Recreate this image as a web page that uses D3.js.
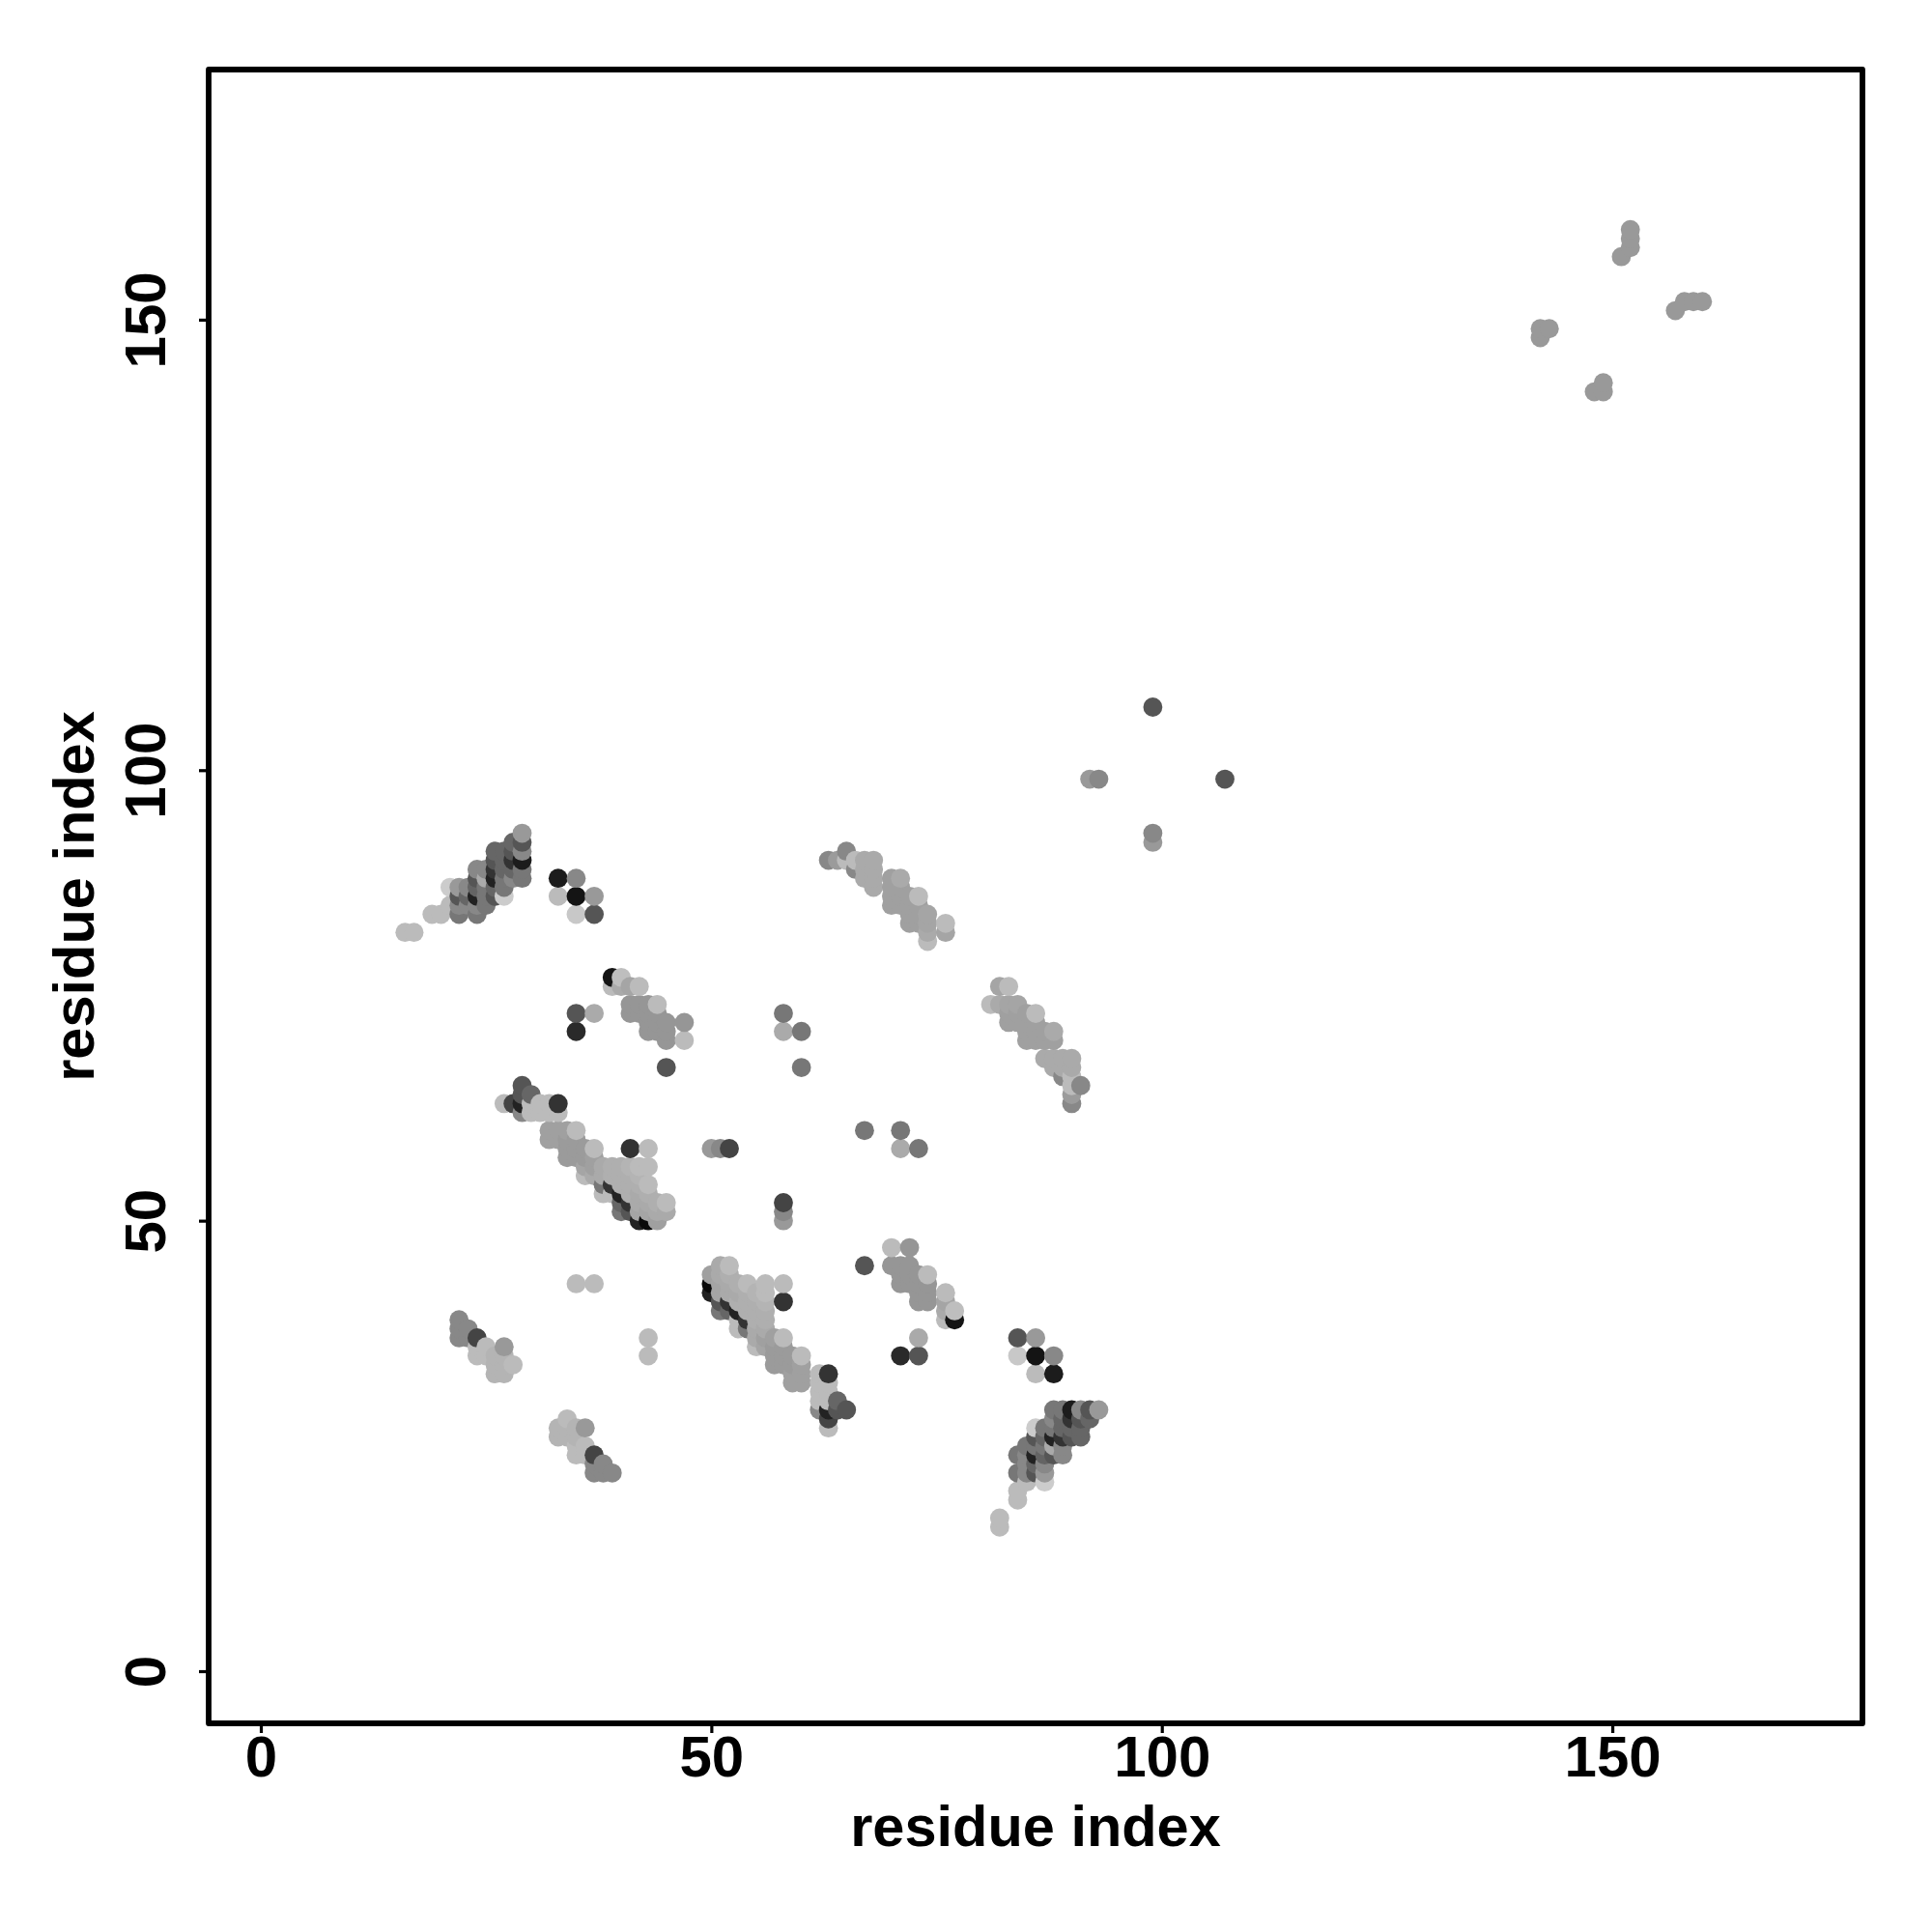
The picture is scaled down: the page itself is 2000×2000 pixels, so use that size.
<!DOCTYPE html>
<html><head><meta charset="utf-8">
<script src="https://cdnjs.cloudflare.com/ajax/libs/d3/7.8.5/d3.min.js"></script>
<style>html,body{margin:0;background:#fff}svg{display:block}text{font-family:"Liberation Sans",Arial,sans-serif;font-weight:bold;fill:#000}</style>
</head><body><svg id="c" width="2000" height="2000"></svg>
<script>
// contacts: [residue i, residue j, grey level]; the map is symmetric, the mirror is added in code
const strandPairA = [[16,82,187],[17,82,187],[19,84,187],[20,84,187],[21,85,187],[21,87,204],
 [22,84,119],[22,85,136],[22,86,85],[22,87,153],[23,85,136],[23,86,102],[23,87,136],
 [24,84,119],[24,85,136],[24,86,34],[24,87,100],[24,88,85],[24,89,136],
 [25,85,119],[25,86,119],[25,87,119],[25,88,170],[25,89,136],
 [26,86,85],[26,87,102],[26,88,34],[26,89,51],[26,90,85],[26,91,102],
 [27,86,204],[27,87,119],[27,88,119],[27,89,102],[27,90,102],[27,91,102],
 [28,88,136],[28,89,102],[28,90,51],[28,91,85],[28,92,102],
 [29,88,119],[29,89,119],[29,90,28],[29,91,136],[29,92,85],[29,93,153]];
const isolatedA = [[33,86,187],[33,88,28],[35,84,200],[35,86,20],[35,88,136],[37,84,85],[37,86,153]];
const strandPairB = [[39,76,187],[39,77,20],[40,76,170],[40,77,190],[41,73,150],[41,74,150],[41,76,165],
 [42,73,150],[42,74,150],[42,76,187],[43,71,150],[43,72,150],[43,73,150],[43,74,150],
 [44,71,150],[44,72,150],[44,73,150],[44,74,187],[45,70,150],[45,71,150],[45,72,150]];
const isolatedB = [[35,71,42],[35,73,85],[37,73,170],[45,67,85],[47,70,187],[47,72,150],
 [58,71,170],[58,73,119],[60,67,119],[60,71,119],[41,58,51],[43,58,187],[50,58,153],[51,58,136],[52,58,68],
 [35,43,187],[37,43,187],[92,99,153],[93,99,136],[99,107,85]];
const strandPairC = [[63,90,136],[64,90,155],[65,90,187],[65,91,136],[66,89,136],[66,90,187],
 [67,88,170],[67,89,170],[67,90,170],[68,87,170],[68,88,170],[68,89,170],[68,90,170],
 [70,85,160],[70,86,160],[70,87,160],[70,88,160],[71,85,160],[71,86,160],[71,87,160],[71,88,170],
 [72,83,160],[72,84,160],[72,85,160],[72,86,160],[73,83,160],[73,84,160],[73,85,160],[73,86,187],
 [74,81,187],[74,82,170],[74,83,165],[74,84,165],[76,82,165],[76,83,187]];
const strandPairD = [[27,63,187],[28,63,68],[29,62,136],[29,63,34],[29,64,85],[29,65,85],[30,62,187],[30,63,187],[30,64,102],
 [31,62,187],[31,63,187],[32,59,160],[32,60,160],[32,62,187],[32,63,187],[33,59,160],[33,60,160],[33,62,187],[33,63,51],
 [34,57,155],[34,58,155],[34,59,155],[34,60,160],[35,57,155],[35,58,155],[35,59,155],[35,60,187],
 [36,55,187],[36,56,165],[36,57,155],[36,58,155],[37,55,170],[37,56,160],[37,57,160],[37,58,187],
 [38,53,187],[38,54,119],[38,55,170],[38,56,170],[39,53,187],[39,54,51],[39,55,175],[39,56,175],
 [40,51,119],[40,52,102],[40,53,34],[40,54,175],[40,55,175],[40,56,175],
 [41,51,85],[41,52,51],[41,53,175],[41,54,175],[41,55,175],[41,56,180],
 [42,50,34],[42,51,165],[42,52,170],[42,53,170],[42,54,175],[42,55,180],[42,56,187],
 [43,50,10],[43,51,165],[43,52,170],[43,53,175],[43,54,187],[43,56,187],
 [44,50,160],[44,51,170],[44,52,175],[45,51,170],[45,52,187]];
const strandPairE = [[22,37,136],[22,38,136],[22,39,136],[23,37,136],[23,38,136],[24,35,187],[24,36,187],[24,37,68],
 [25,35,187],[25,36,187],[26,33,180],[26,34,180],[26,35,180],[27,33,180],[27,34,180],[27,35,180],[27,36,153],[28,34,187]];
const distalPair = [[142,148,153],[142,149,153],[143,149,153],[151,157,153],[152,158,153],[152,159,153],[152,160,153]];

const tickValues = [0, 50, 100, 150];
const axisTitle = "residue index";

const upper = [].concat(strandPairA, isolatedA, strandPairB, isolatedB, strandPairC, strandPairD, strandPairE, distalPair);
const contacts = upper.concat(upper.map(([i, j, g]) => [j, i, g]))
  .sort((a, b) => d3.ascending(a[0], b[0]) || d3.ascending(a[1], b[1]));

const svg = d3.select("#c");
const x = d3.scaleLinear().domain([-5.79, 177.76]).range([216, 1928]);
const y = d3.scaleLinear().domain([-5.79, 177.76]).range([1784, 72]);
const grey = d3.scaleLinear().domain([0, 255]).range(["#000", "#fff"]);

svg.append("g").selectAll("circle").data(contacts).join("circle")
  .attr("cx", d => x(d[0])).attr("cy", d => y(d[1])).attr("r", 9.9)
  .attr("fill", d => grey(d[2]));

const xAxis = svg.append("g").attr("transform", "translate(0,1784)")
  .call(d3.axisBottom(x).tickValues(tickValues).tickSize(10).tickPadding(0));
const yAxis = svg.append("g").attr("transform", "translate(216,0)")
  .call(d3.axisLeft(y).tickValues(tickValues).tickSize(10).tickPadding(0));
[xAxis, yAxis].forEach(a => {
  a.select(".domain").remove();
  a.selectAll("line").attr("stroke", "#000").attr("stroke-width", 3.2);
  a.selectAll("text").attr("font-size", 60);
});
xAxis.selectAll("text").attr("y", 0).attr("dy", 0).attr("transform", "translate(0,55)");
yAxis.selectAll("text").attr("x", 0).attr("y", 0).attr("dy", 0).attr("text-anchor", "middle")
  .attr("transform", "translate(-45,0) rotate(-90)");

svg.append("rect").attr("x", 216).attr("y", 72).attr("width", 1712).attr("height", 1712)
  .attr("fill", "none").attr("stroke", "#000").attr("stroke-width", 5.8).attr("stroke-linejoin", "round");

svg.append("text").attr("x", 1072).attr("y", 1911).attr("text-anchor", "middle").attr("font-size", 59.5).text(axisTitle);
svg.append("text").attr("transform", "translate(97,928) rotate(-90)").attr("text-anchor", "middle").attr("font-size", 59.5).text(axisTitle);
</script></body></html>
